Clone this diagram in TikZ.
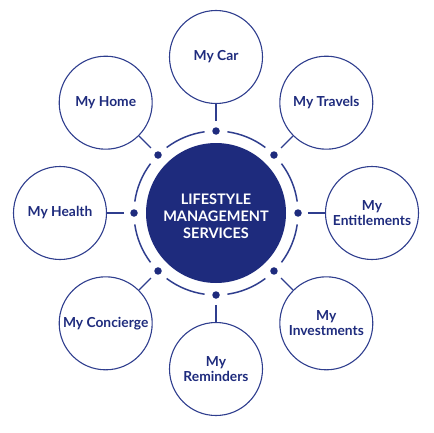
\documentclass[tikz,border=0pt]{standalone}
\usepackage{fontspec}
\setmainfont{Lato}
\usetikzlibrary{calc}
\definecolor{navy}{HTML}{1E2B7D}
\definecolor{lineblue}{HTML}{2F3E8E}
\begin{document}
\begin{tikzpicture}[x=1pt,y=1pt,
  sat/.style={circle, draw=lineblue, line width=1.1pt, minimum size=93pt, inner sep=0pt,
    text=navy, font=\fontsize{13.8}{15.5}\selectfont\bfseries, align=center},
  hubnode/.style={circle, fill=navy, minimum size=140pt, inner sep=0pt, text=white,
    font=\fontsize{14.5}{17}\selectfont\bfseries, align=center},
  ringdot/.style={circle, fill=navy, minimum size=7.5pt, inner sep=0pt},
  ringline/.style={draw=lineblue, line width=1.5pt},
  link/.style={draw=lineblue, line width=1.2pt, shorten <=6pt}]
\useasboundingbox (0,0) rectangle (433,-433);
\coordinate (c) at (216,-213);
\node[hubnode] (hub) at (c) {};
\node[text=white, font=\fontsize{14.5}{17}\selectfont\bfseries, align=center] (hubtext) at ($(c)+(0,-3)$) {LIFESTYLE\\MANAGEMENT\\SERVICES};
\foreach \a in {0,45,...,315}{
  \draw[ringline] ($(c)+(\a+8:82)$) arc[start angle=\a+8, end angle=\a+37, radius=82];
}
\foreach \a/\n/\t in {90/car/{My Car}, 45/travels/{My Travels}, 0/ent/{My\\Entitlements},
  -45/inv/{My\\Investments}, -90/rem/{My\\Reminders}, -135/conc/{My Concierge},
  180/health/{My Health}, 135/home/{My Home}}{
  \node[sat] (\n) at ($(c)+(\a:156)$) {\t};
  \node[ringdot] (d\n) at ($(c)+(\a:82)$) {};
  \draw[link] (d\n) -- (\n);
}
\end{tikzpicture}
\end{document}
